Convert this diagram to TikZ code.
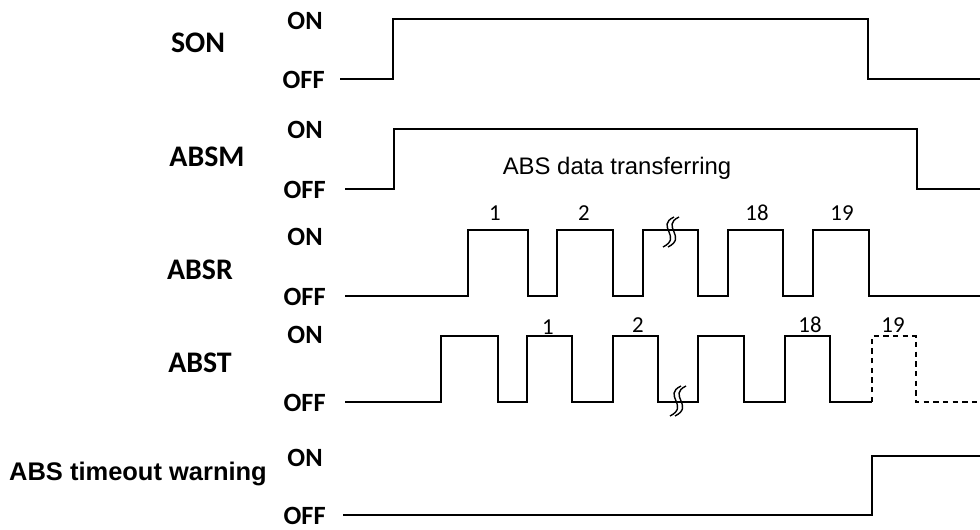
\documentclass[tikz,border=0pt]{standalone}
\usepackage{fontspec}
\setmainfont{Carlito}
\newfontfamily\arialfont{Liberation Sans}
\usetikzlibrary{positioning}

\begin{document}
\begin{tikzpicture}[x=0.02cm, y=-0.02cm, every node/.style={inner sep=0pt},
  signame/.style={font=\bfseries\fontsize{17}{19}\selectfont},
  level/.style={anchor=east, font=\bfseries\fontsize{15}{17}\selectfont},
  pulsenum/.style={font=\fontsize{13}{15}\selectfont},
  wave/.style={line width=0.9pt, line join=miter}]
\useasboundingbox (0,0) rectangle (980,529);

% Signal names and levels
\node[signame] (son) at (198,43) {SON};
\node[level] (sonon) at (323,21) {ON};
\node[level] (sonoff) at (325,80) {OFF};

\node[signame] (absm) at (207,157) {ABSM};
\node[level] (absmon) at (323,130) {ON};
\node[level] (absmoff) at (326,190) {OFF};

\node[signame] (absr) at (200,270) {ABSR};
\node[level] (absron) at (323,237) {ON};
\node[level] (absroff) at (326,297) {OFF};

\node[signame] (abst) at (200,363) {ABST};
\node[level] (abston) at (323,335) {ON};
\node[level] (abstoff) at (326,403) {OFF};

\node[font=\arialfont\bfseries\fontsize{14.5}{16}\selectfont] (timeout) at (138,474) {ABS timeout warning};
\node[level] (timeouton) at (323,458) {ON};
\node[level] (timeoutoff) at (326,516) {OFF};

\node[font=\arialfont\fontsize{13.6}{15}\selectfont] (transfer) at (617,168) {ABS data transferring};

% Waveforms
\draw[wave] (340,79) -- (393,79) -- (393,19) -- (868,19) -- (868,79) -- (980,79);
\draw[wave] (345,189) -- (394,189) -- (394,129) -- (917,129) -- (917,189) -- (980,189);
\draw[wave] (345,296) -| (468,230) -| (528,296) -| (557,230) -| (613,296) -| (643,230)
  -| (698,296) -| (728,230) -| (783,296) -| (813,230) -| (869,296) -- (980,296);
\draw[wave] (345,402) -| (441,336) -| (498,402) -| (527,336) -| (572,402) -| (613,336)
  -| (658,402) -| (698,336) -| (744,402) -| (785,336) -| (830,402) -- (872,402);
\draw[wave, dash pattern=on 3pt off 2.5pt] (872,402) -- (872,336) -- (916,336) -- (916,402) -- (980,402);
\draw[line width=1.4pt] (343,515) -- (872,515) -- (872,456) -- (980,456);

% Break marks
\foreach \bx/\by in {669/232, 676/401}
  \foreach \dx in {0,5}
    \draw[line width=0.8pt] ({\bx+\dx+5},\by-15) .. controls ({\bx+\dx-14},\by-6) and ({\bx+\dx+14},\by+5) .. ({\bx+\dx-6},\by+15);

% Pulse numbers
\node[pulsenum] (r1) at (495,213) {1};
\node[pulsenum] (r2) at (584,213) {2};
\node[pulsenum] (r18) at (757,213) {18};
\node[pulsenum] (r19) at (842,213) {19};
\node[pulsenum] (t1) at (548,327) {1};
\node[pulsenum] (t2) at (638,325) {2};
\node[pulsenum] (t18) at (810,325) {18};
\node[pulsenum] (t19) at (893,325) {19};
\end{tikzpicture}
\end{document}
